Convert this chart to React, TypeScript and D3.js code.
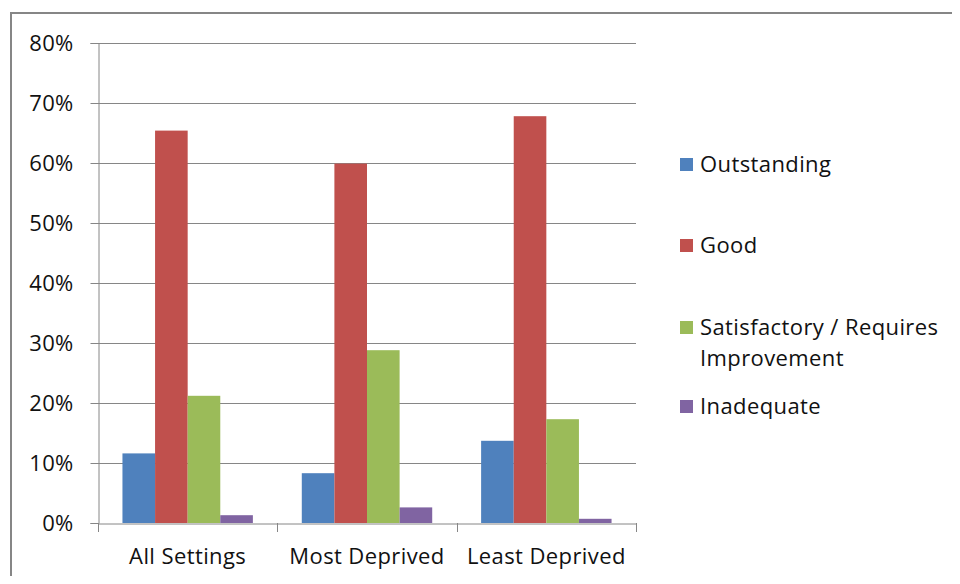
import React, { useRef, useEffect } from 'react';
import { select, scaleBand, scaleLinear, axisLeft, axisBottom, format } from 'd3';

const categories = ['All Settings', 'Most Deprived', 'Least Deprived'];
const seriesNames = ['Outstanding', 'Good', 'Satisfactory / Requires Improvement', 'Inadequate'];
const legendLines = [['Outstanding'], ['Good'], ['Satisfactory / Requires', 'Improvement'], ['Inadequate']];
const outstanding = [0.116, 0.083, 0.137];
const good = [0.654, 0.599, 0.678];
const satisfactory = [0.212, 0.288, 0.173];
const inadequate = [0.013, 0.026, 0.007];
const yTicks = [0, 0.1, 0.2, 0.3, 0.4, 0.5, 0.6, 0.7, 0.8];
const colors = ['#4F81BD', '#C0504D', '#9BBB59', '#8064A2'];

const dims = {
  width: 960,
  height: 584,
  left: 98,
  right: 636,
  top: 43,
  bottom: 523,
};

const FONT = '"Open Sans", sans-serif';
const TEXT = '#111';

const App = () => {
  const svgRef = useRef<SVGSVGElement>(null);

  useEffect(() => {
    const svg = select(svgRef.current);
    svg.selectAll('*').remove();

    const series = [outstanding, good, satisfactory, inadequate];

    const x = scaleBand<string>()
      .domain(categories)
      .range([dims.left, dims.right]);
    const inner = scaleBand<number>()
      .domain([0, 1, 2, 3])
      .range([0, x.bandwidth()])
      .paddingOuter(0.75);
    const y = scaleLinear().domain([0, 0.8]).range([dims.bottom, dims.top]);

    // chart frame
    svg
      .append('rect')
      .attr('x', 11)
      .attr('y', 13)
      .attr('width', 980)
      .attr('height', 600)
      .attr('fill', 'none')
      .attr('stroke', '#868686')
      .attr('stroke-width', 2);

    // gridlines
    svg
      .append('g')
      .selectAll('line')
      .data(yTicks.slice(1))
      .join('line')
      .attr('x1', dims.left)
      .attr('x2', dims.right)
      .attr('y1', (d) => Math.round(y(d)) + 0.5)
      .attr('y2', (d) => Math.round(y(d)) + 0.5)
      .attr('stroke', '#868686')
      .attr('stroke-width', 1);

    // bars
    const groups = svg
      .append('g')
      .selectAll('g')
      .data(series)
      .join('g')
      .attr('fill', (_, i) => colors[i]);
    groups
      .selectAll('rect')
      .data((vals, si) => vals.map((v, ci) => ({ v, ci, si })))
      .join('rect')
      .attr('x', (d) => (x(categories[d.ci]) as number) + (inner(d.si) as number))
      .attr('width', inner.bandwidth())
      .attr('y', (d) => y(d.v))
      .attr('height', (d) => y(0) - y(d.v));

    // y axis
    const yAxis = svg
      .append('g')
      .attr('transform', `translate(${dims.left + 0.5},0)`)
      .call(
        axisLeft(y)
          .tickValues(yTicks)
          .tickFormat(format('.0%'))
          .tickSize(8)
          .tickPadding(17)
      );
    yAxis.select('.domain').attr('stroke', '#868686');
    yAxis.selectAll('.tick line').attr('stroke', '#868686');
    yAxis
      .selectAll('.tick text')
      .attr('fill', TEXT)
      .style('font-family', FONT)
      .style('font-size', '22px')
      .style('letter-spacing', '0.3px');

    // x axis
    const xAxis = svg
      .append('g')
      .attr('transform', `translate(0,${dims.bottom + 0.5})`)
      .call(axisBottom(x).tickSize(0).tickPadding(25));
    xAxis.select('.domain').attr('stroke', '#868686');
    xAxis
      .selectAll('.tick text')
      .attr('fill', TEXT)
      .style('font-family', FONT)
      .style('font-size', '22px')
      .style('letter-spacing', '0.4px');
    svg
      .append('g')
      .selectAll('line')
      .data([...categories.map((c) => x(c) as number), dims.right])
      .join('line')
      .attr('x1', (d) => Math.round(d) + 0.5)
      .attr('x2', (d) => Math.round(d) + 0.5)
      .attr('y1', dims.bottom)
      .attr('y2', dims.bottom + 9)
      .attr('stroke', '#868686');

    // legend
    const legendY = [164, 245, 327, 406];
    const legend = svg
      .append('g')
      .selectAll('g')
      .data(seriesNames)
      .join('g')
      .attr('transform', (_, i) => `translate(680,${legendY[i]})`);
    legend
      .append('rect')
      .attr('x', 0)
      .attr('y', -6)
      .attr('width', 13)
      .attr('height', 13)
      .attr('fill', (_, i) => colors[i]);
    legend
      .append('text')
      .attr('x', 20)
      .attr('fill', TEXT)
      .style('font-family', FONT)
      .style('font-size', '22px')
      .style('letter-spacing', '0.4px')
      .selectAll('tspan')
      .data((_, i) => legendLines[i])
      .join('tspan')
      .attr('x', 20)
      .attr('dy', (_, j) => (j === 0 ? '0.35em' : '1.4em'))
      .text((d) => d);
  }, []);

  return (
    <svg
      ref={svgRef}
      width={dims.width}
      height={dims.height}
      style={{ display: 'block', margin: '-8px' }}
    ></svg>
  );
};

export default App;
